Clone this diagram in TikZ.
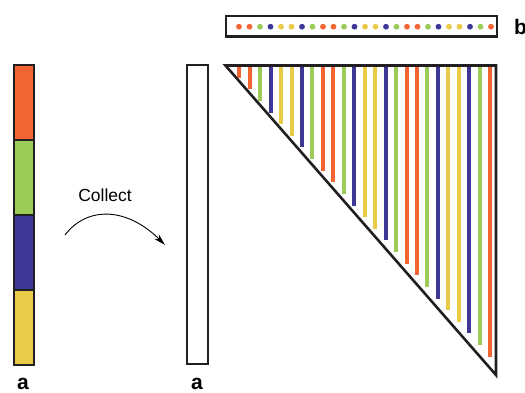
\documentclass[tikz,border=0pt]{standalone}
\usepackage{fontspec}
\setmainfont{Liberation Sans}
\usetikzlibrary{arrows.meta}
\definecolor{cor}{HTML}{F26532}
\definecolor{cgr}{HTML}{9DCB58}
\definecolor{cbl}{HTML}{3E3795}
\definecolor{cye}{HTML}{E8CB47}
\definecolor{ink}{HTML}{231F20}
\begin{document}
\begin{tikzpicture}[x=1pt,y=-1pt,
  seg/.style={draw=ink,line width=2pt,inner sep=0pt,minimum width=20pt,minimum height=75pt},
  lab/.style={font=\fontsize{21}{24}\selectfont\bfseries,inner sep=0pt},
  frame/.style={draw=ink,line width=2.6pt},
  bar/.style={line width=4pt}
]
\useasboundingbox (0,0) rectangle (525,393);
% left coloured bar
\node[seg,fill=cor] (s1) at (24,102.5) {};
\node[seg,fill=cgr] (s2) at (24,177.5) {};
\node[seg,fill=cbl] (s3) at (24,252.5) {};
\node[seg,fill=cye] (s4) at (24,327) {};
% empty bar
\node[seg,minimum width=20.5pt,minimum height=299pt] (e) at (197.3,214.5) {};
% labels
\node[lab] (la1) at (23,384) {a};
\node[lab] (la2) at (197,384) {a};
\node[lab,anchor=west] (lb) at (514,27) {b};
% collect arrow
\coordinate (c0) at (65,235);
\coordinate (c1) at (165,245);
\draw[line width=0.9pt,-{Stealth[length=12pt,width=6.5pt]}] (c0) .. controls (88,205) and (128,208) .. (c1);
\node[font=\fontsize{17.5}{20}\selectfont] (col) at (105,195) {Collect};
% vertical colour lines and dots
\foreach \i in {0,...,24}{
  \pgfmathtruncatemacro{\m}{mod(\i,8)}
  \ifcase\m \def\cc{cor}\or \def\cc{cor}\or \def\cc{cgr}\or \def\cc{cbl}\or \def\cc{cye}\or \def\cc{cye}\or \def\cc{cbl}\or \def\cc{cgr}\fi
  \draw[bar,draw=\cc] ({239.3+10.45*\i},66) -- ({239.3+10.45*\i},{77.7+11.625*\i});
  \fill[\cc] ({239+10.5*\i},26.7) circle (2.9);
}
% triangle
\coordinate (t1) at (225.5,65.5);
\coordinate (t2) at (496,65.5);
\coordinate (t3) at (496,375);
\draw[frame] (t1) -- (t2) -- (t3) -- cycle;
% top box
\node[draw=ink,line width=2.4pt,minimum width=271pt,minimum height=20.5pt,inner sep=0pt] (box) at (361.5,26.35) {};
\end{tikzpicture}
\end{document}
